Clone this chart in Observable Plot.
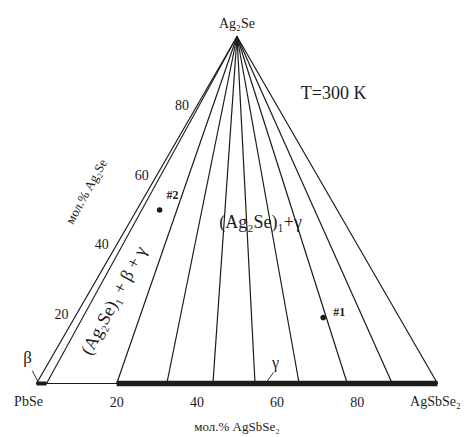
<!DOCTYPE html>
<html>
<head>
<meta charset="utf-8">
<script src="https://cdn.jsdelivr.net/npm/d3@7"></script>
<script src="https://cdn.jsdelivr.net/npm/@observablehq/plot@0.6"></script>
<style>
  html, body { margin: 0; padding: 0; background: #fff; }
  #chart svg { display: block; }
</style>
</head>
<body>
<div id="chart"></div>
<script>
// ---- data (mol. %) ----
const vertexLabels = ["PbSe", "AgSbSe₂", "Ag₂Se"];
const axisTicks = [20, 40, 60, 80];
const tieLineEnds = [20, 32.5, 44, 54.5, 65.5, 77.5, 88.7]; // mol.% AgSbSe2 on PbSe–AgSbSe2 side
const betaLimit = 2.5;          // mol.% AgSbSe2, limit of β
const gammaRange = [20, 100];   // mol.% AgSbSe2, extent of γ
const sampleNames = ["#1", "#2"];
const sampleAg2Se = [19, 50];
const sampleAgSbSe2 = [62, 5.7];
const axisTitles = ["мол.% AgSbSe₂", "мол.% Ag₂Se"];
const regionLabels = ["(Ag₂Se)₁+γ", "(Ag₂Se)₁ + β + γ", "β", "γ"];
const tempLabel = "T=300 K";

// ternary -> cartesian (composition: Ag2Se %, AgSbSe2 %)
const H = Math.sqrt(3) / 2;
const P = (ag2se, agsbse2) => ({x: (agsbse2 + ag2se / 2) / 100, y: ag2se / 100 * H});

const font = "'Liberation Serif', 'Times New Roman', serif";
const ink = "#1b1b1b";

const corners = [P(0, 0), P(0, 100), P(100, 0)];
const apex = corners[2];
const triangle = [corners[0], corners[1], corners[2], corners[0]];
const ties = tieLineEnds.map(b => ({a: P(0, b), b: apex}));
const samples = sampleNames.map((n, i) => ({name: n, ...P(sampleAg2Se[i], sampleAgSbSe2[i])}));
const leftTicks = axisTicks.map(t => ({t: String(t), ...P(t, 0)}));
const bottomTicks = axisTicks.map(t => ({t: String(t), ...P(0, t)}));

const txt = (pos, text, opts) => Plot.text([pos], {x: "x", y: "y", text: () => text, fontFamily: font, fill: ink, ...opts});
const seg = {x1: d => d.a.x, y1: d => d.a.y, x2: d => d.b.x, y2: d => d.b.y, stroke: ink};

const chart = Plot.plot({
  width: 465,
  height: 437,
  marginLeft: 36,
  marginRight: 28,
  marginTop: 36,
  marginBottom: 54,
  x: {domain: [0, 1], axis: null},
  y: {domain: [0, H], axis: null},
  style: {fontFamily: font, background: "#fff"},
  marks: [
    // tie lines from Ag2Se
    Plot.link(ties, {...seg, strokeWidth: 1.2}),
    // beta limit line
    Plot.link([{a: P(0, betaLimit), b: apex}], {...seg, strokeWidth: 1.1}),
    // triangle
    Plot.line(triangle, {x: "x", y: "y", stroke: ink, strokeWidth: 1.2}),
    // gamma band on base
    Plot.link([{a: P(0, gammaRange[0]), b: P(0, gammaRange[1])}], {...seg, strokeWidth: 5.5}),
    // beta band on base
    Plot.link([{a: P(0, 0), b: P(0, betaLimit)}], {...seg, strokeWidth: 4}),
    // leaders for β and γ
    Plot.link([{a: P(0, 0.6), b: P(3.7, -2.9)}, {a: P(0, 57.1), b: P(3.2, 57.5)}], {...seg, strokeWidth: 0.9}),
    // samples
    Plot.dot(samples, {x: "x", y: "y", r: 2.8, fill: ink, stroke: "none"}),
    Plot.text(samples.slice(0, 1), {x: "x", y: "y", text: "name", dx: 16, dy: -5, fontSize: 12, fontWeight: "bold", fontFamily: font, fill: ink}),
    Plot.text(samples.slice(1), {x: "x", y: "y", text: "name", dx: 13, dy: -15, fontSize: 12, fontWeight: "bold", fontFamily: font, fill: ink}),
    // vertex labels
    txt(corners[0], vertexLabels[0], {dx: -8, dy: 18, fontSize: 14}),
    txt(corners[1], vertexLabels[1], {dx: -2, dy: 18, fontSize: 14}),
    txt(corners[2], vertexLabels[2], {dy: -13, fontSize: 14}),
    // ticks
    Plot.text(bottomTicks, {x: "x", y: "y", text: "t", dy: 19, fontSize: 14, fontFamily: font, fill: ink}),
    Plot.text(leftTicks, {x: "x", y: "y", text: "t", dx: -15, dy: 0, fontSize: 14, fontFamily: font, fill: ink}),
    // axis titles
    txt(P(0, 50), axisTitles[0], {dy: 43, fontSize: 13}),
    txt(P(55.3, -15.2), axisTitles[1], {rotate: -61, fontSize: 13}),
    // region labels
    txt(P(46.4, 32.7), regionLabels[0], {fontSize: 18}),
    txt(P(23.9, 7.3), regionLabels[1], {rotate: -62, fontSize: 18}),
    txt(P(7.5, -6), regionLabels[2], {fontSize: 17}),
    txt(P(5.8, 56.7), regionLabels[3], {fontSize: 16}),
    txt(P(83.6, 32.3), tempLabel, {fontSize: 18})
  ]
});
document.getElementById("chart").appendChild(chart);
</script>
</body>
</html>
